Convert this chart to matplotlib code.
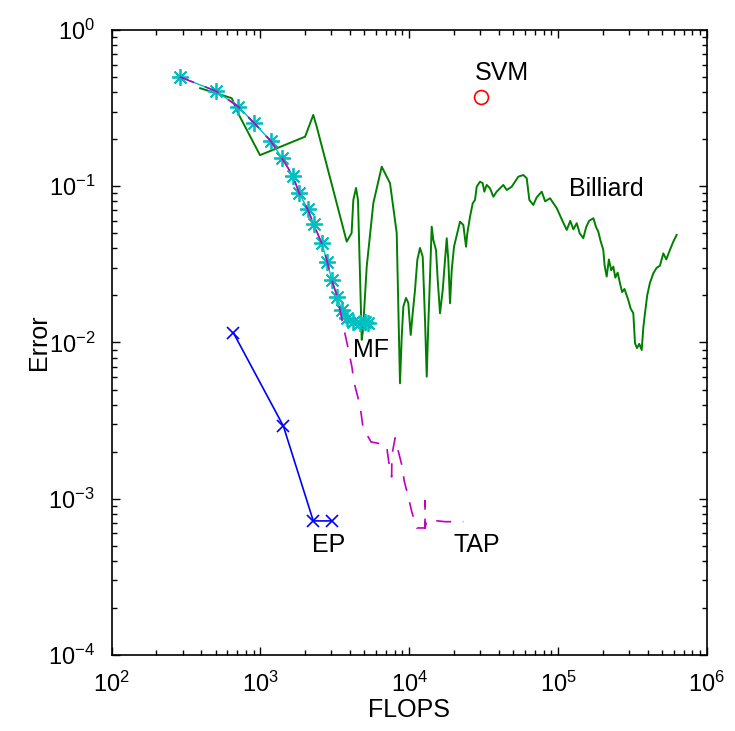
import matplotlib
matplotlib.use("Agg")
import matplotlib.pyplot as plt
from matplotlib.ticker import LogLocator, NullFormatter

plt.rcParams['font.family'] = ['Liberation Sans', 'DejaVu Sans']
plt.rcParams['mathtext.fontset'] = 'custom'
plt.rcParams['mathtext.rm'] = 'Liberation Sans'
plt.rcParams['mathtext.it'] = 'Liberation Sans'
plt.rcParams['mathtext.default'] = 'regular'

# ---- data ----
mf_flops = [288, 500, 710, 909, 1172, 1390, 1648, 1825, 2078, 2280, 2581, 2813,
            3013, 3286, 3517, 3800, 4210, 4670, 5045, 5310]
mf_error = [0.50, 0.407, 0.323, 0.253, 0.195, 0.152, 0.117, 0.090, 0.0712, 0.0571,
            0.0431, 0.0329, 0.0251, 0.0196, 0.0161, 0.0143, 0.0136, 0.0133, 0.0136, 0.0133]

tap_flops = [288, 500, 710, 909, 1172, 1390, 1648, 1825, 2078, 2280, 2581, 2813,
             3013, 3286, 3535, 3880, 4120, 4250, 4530, 4745, 4895, 5540, 7030, 7300,
             7620, 7650, 8040, 8410, 8920, 9270, 9860, 10400, 11220, 12770, 12770,
             12770, 13200, 13800, 17400, 23100]
tap_error = [0.50, 0.407, 0.323, 0.253, 0.195, 0.152, 0.117, 0.090, 0.0712, 0.0571,
             0.0431, 0.0329, 0.0251, 0.0196, 0.0139, 0.00923, 0.00697, 0.00559,
             0.00441, 0.00354, 0.00284, 0.00231, 0.00221, 0.0017, 0.00138, 0.0019,
             0.00245, 0.00205, 0.00164, 0.00129, 0.00103, 0.000826, 0.00065, 0.00065,
             0.00097, 0.00065, 0.00073, 0.00073, 0.000713, 0.000713]

ep_flops = [657, 1425, 2265, 3013]
ep_error = [0.01155, 0.00292, 0.000721, 0.000721]

svm_flops = [30400]
svm_error = [0.373]

billiard_flops = [
    393, 641, 706, 993, 1995, 2265, 2390, 3800, 4100, 4210,
    4390, 4525, 4795, 4890, 5180, 5740, 6535, 7430, 8240, 8670,
    8906, 9128, 9517, 9862, 10016, 10235, 10557, 10940, 11337, 11817,
    12325, 12771, 13113, 13443, 13800, 14164, 14521, 15144, 15547, 16110,
    16800, 17410, 17870, 18320, 18810, 19310, 20010, 20640, 21960, 23110,
    24100, 24590, 25630, 26730, 27690, 28430, 29920, 31200, 31980, 33190,
    34930, 36770, 38740, 40770, 42920, 45240, 48880, 51440, 54140, 58500,
    61660, 64200, 68260, 72000, 77800,
    82000, 88500, 93000, 98200, 104000, 109000, 114600, 121000, 127000, 133700,
    140000, 148000, 155000, 162000, 173000, 180000, 186700, 193000, 201700, 206000,
    212600, 220000, 228000, 235600, 243000, 252000, 261300, 270000, 280000, 297000,
    308000, 321000, 329600, 340000, 352000, 365600, 375000, 384700, 398000, 415000,
    437500, 460000, 485000, 510800, 535000, 566200, 595000, 628000]
billiard_error = [
    0.424, 0.366, 0.294, 0.158, 0.2075, 0.286, 0.240, 0.0442, 0.0502, 0.0817,
    0.0975, 0.0817, 0.0104, 0.012, 0.0306, 0.0781, 0.1334, 0.1045, 0.0502, 0.00548,
    0.01089, 0.01695, 0.01927, 0.0179, 0.01462, 0.01117, 0.01545, 0.02168, 0.03373, 0.04027,
    0.0354, 0.01393, 0.00604, 0.01327, 0.02637, 0.05508, 0.04529, 0.03908, 0.02512, 0.01538,
    0.02168, 0.03373, 0.04645, 0.03373, 0.01782, 0.02911, 0.04102, 0.04645, 0.05929, 0.05649,
    0.04102, 0.05, 0.06383, 0.0778, 0.08166, 0.09931, 0.1069, 0.1045, 0.0923, 0.1019,
    0.0970, 0.0857, 0.0923, 0.0970, 0.1019, 0.0946, 0.0993, 0.1069, 0.1151, 0.1180,
    0.1124, 0.0817, 0.0759, 0.085, 0.0923,
    0.080, 0.0838, 0.078, 0.0723, 0.064, 0.058, 0.0525, 0.060, 0.053, 0.058,
    0.050, 0.0465, 0.055, 0.060, 0.0624, 0.055, 0.0512, 0.045, 0.0391, 0.031,
    0.0264, 0.034, 0.029, 0.0306, 0.026, 0.028, 0.0239, 0.021, 0.022, 0.0187,
    0.0165, 0.0154, 0.00989, 0.0092, 0.0098, 0.00895, 0.0125, 0.0154, 0.020, 0.0240,
    0.0277, 0.030, 0.031, 0.0372, 0.034, 0.0391, 0.044, 0.0488]

labels = ['SVM', 'Billiard', 'MF', 'EP', 'TAP']
label_x = [42000, 212700, 5495, 2890, 28430]
label_y = [0.531, 0.0960, 0.00895, 0.000506, 0.000506]

# ---- plot ----
fig = plt.figure(figsize=(7.35, 7.31), dpi=100)
ax = fig.add_axes([0.152, 0.104, 0.8095, 0.855])

green = (0, 0.5, 0)
cyan = (0, 0.75, 0.75)
magenta = (0.75, 0, 0.75)

ax.plot(billiard_flops, billiard_error, color=green, lw=1.4)
ax.plot(mf_flops, mf_error, color=cyan, lw=1.0, marker=(8, 2, 0), ms=12, mew=1.3)
ax.plot(tap_flops, tap_error, color=magenta, lw=1.2, dashes=(9, 7))
ax.plot(ep_flops, ep_error, color='blue', lw=1.2, marker='x', ms=8, mew=1.2)
ax.plot(svm_flops, svm_error, color='red', marker='o', ms=10, mfc='none', mew=1.2, ls='none')

for t, x, y in zip(labels, label_x, label_y):
    ax.text(x, y, t, fontsize=18, ha='center', va='center')

ax.set_xscale('log')
ax.set_yscale('log')
ax.set_xlim(1e2, 1e6)
ax.set_ylim(1e-4, 1e0)
ax.xaxis.set_minor_locator(LogLocator(base=10, subs=range(2, 10), numticks=20))
ax.yaxis.set_minor_locator(LogLocator(base=10, subs=range(2, 10), numticks=20))
ax.xaxis.set_minor_formatter(NullFormatter())
ax.yaxis.set_minor_formatter(NullFormatter())
ax.tick_params(which='both', direction='in', top=True, right=True, labelsize=17)
ax.tick_params(which='major', length=6, width=1)
ax.tick_params(which='minor', length=3.5, width=1)
ax.tick_params(axis='y', which='major', pad=12)
ax.tick_params(axis='x', which='major', pad=12)
for s in ax.spines.values():
    s.set_linewidth(1.2)

ax.set_xlabel('FLOPS', fontsize=18, labelpad=1)
ax.set_ylabel('Error', fontsize=18, labelpad=-2)

fig.savefig('out.png', dpi=100)
